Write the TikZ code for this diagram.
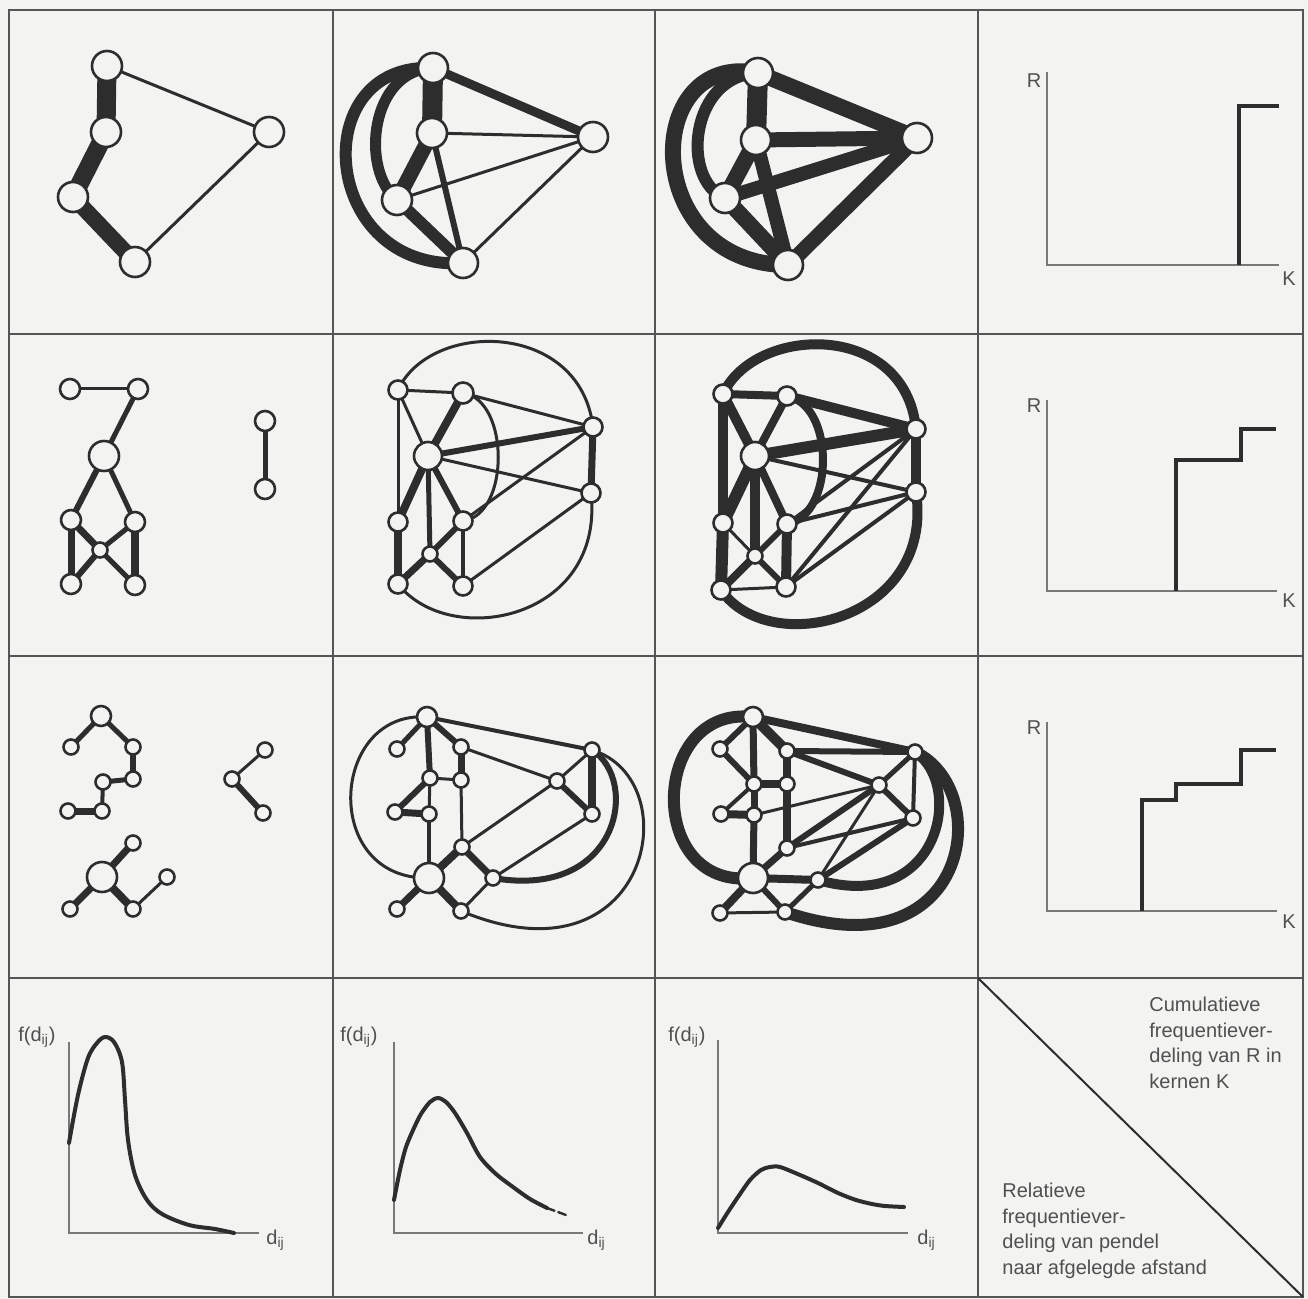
\documentclass[tikz,border=0pt]{standalone}
\usepackage{fontspec}
\setmainfont{Liberation Sans}
\usetikzlibrary{positioning}
\definecolor{paper}{RGB}{243,243,241}
\definecolor{ink}{RGB}{45,45,45}
\definecolor{rule}{RGB}{85,85,85}
\definecolor{axisgray}{RGB}{120,120,120}
\definecolor{txt}{RGB}{80,80,80}
\pgfdeclarelayer{paper}
\pgfdeclarelayer{links}
\pgfsetlayers{paper,links,main}

\begin{document}
\begin{tikzpicture}[x=0.5pt, y=-0.5pt,
    vtx/.style={circle, draw=ink, fill=paper, line width=1.3pt, inner sep=0pt, minimum size=#1*1pt},
    tie/.style={draw=ink, line width=#1*0.5pt},
    gridline/.style={draw=rule, line width=1pt},
    axisline/.style={draw=axisgray, line width=0.75pt},
    stair/.style={draw=ink, line width=2pt},
    density/.style={draw=ink, line width=2pt, line cap=round, line join=round},
    lbl/.style={text=txt, inner sep=0pt, font=\fontsize{10}{12.75}\selectfont}
]

% Paper
\begin{pgfonlayer}{paper}
\fill[paper] (0,0) rectangle (1308,1299);
\end{pgfonlayer}

% Grid of panels
\draw[gridline] (9,10) rectangle (1303,1297);
\draw[gridline] (333,10) -- (333,1297) (655,10) -- (655,1297) (978,10) -- (978,1297);
\draw[gridline] (9,334) -- (1303,334) (9,656) -- (1303,656) (9,978) -- (1303,978);

% Row 1, panel 1
\node[vtx=15] (n11a) at (107,66) {};
\node[vtx=15] (n11b) at (106,132) {};
\node[vtx=15] (n11c) at (73,197) {};
\node[vtx=15] (n11d) at (135,262) {};
\node[vtx=15] (n11e) at (269,132) {};
\begin{pgfonlayer}{links}
\draw[tie=19] (n11a.center) -- (n11b.center);
\draw[tie=18] (n11b.center) -- (n11c.center);
\draw[tie=16] (n11c.center) -- (n11d.center);
\draw[tie=3] (n11a.center) -- (n11e.center) -- (n11d.center);
\end{pgfonlayer}

% Row 1, panel 2
\node[vtx=15] (n12a) at (433,68) {};
\node[vtx=15] (n12b) at (432,133) {};
\node[vtx=15] (n12c) at (397,200) {};
\node[vtx=15] (n12d) at (463,263) {};
\node[vtx=15] (n12e) at (593,137) {};
\begin{pgfonlayer}{links}
\draw[tie=20] (n12a.center) -- (n12b.center);
\draw[tie=9] (n12a.center) -- (n12e.center);
\draw[tie=15] (n12b.center) -- (n12c.center);
\draw[tie=6] (n12b.center) -- (n12d.center);
\draw[tie=12] (n12c.center) -- (n12d.center);
\draw[tie=3] (n12b.center) -- (n12e.center);
\draw[tie=3] (n12c.center) -- (n12e.center);
\draw[tie=3] (n12d.center) -- (n12e.center);
\draw[tie=12] (n12a.center) .. controls (305,62) and (320,272) .. (n12d.center);
\draw[tie=11] (n12a.center) .. controls (370,70) and (360,170) .. (n12c.center);
\end{pgfonlayer}

% Row 1, panel 3
\node[vtx=15] (n13a) at (758,73) {};
\node[vtx=15] (n13b) at (756,140) {};
\node[vtx=15] (n13c) at (725,198) {};
\node[vtx=15] (n13d) at (788,265) {};
\node[vtx=15] (n13e) at (917,138) {};
\begin{pgfonlayer}{links}
\draw[tie=20] (n13a.center) -- (n13b.center);
\draw[tie=16] (n13a.center) -- (n13e.center);
\draw[tie=15] (n13b.center) -- (n13e.center);
\draw[tie=14] (n13c.center) -- (n13e.center);
\draw[tie=16] (n13b.center) -- (n13c.center);
\draw[tie=14] (n13b.center) -- (n13d.center);
\draw[tie=16] (n13c.center) -- (n13d.center);
\draw[tie=15] (n13d.center) -- (n13e.center);
\draw[tie=16] (n13a.center) .. controls (640,50) and (640,265) .. (n13d.center);
\draw[tie=12] (n13a.center) .. controls (690,75) and (680,180) .. (n13c.center);
\end{pgfonlayer}

% Row 2, panel 1
\node[vtx=10] (n21a) at (70,389) {};
\node[vtx=10] (n21b) at (138,389) {};
\node[vtx=15] (n21c) at (104,456) {};
\node[vtx=10] (n21d) at (71,520) {};
\node[vtx=10] (n21e) at (135,522) {};
\node[vtx=7.5] (n21f) at (100,550) {};
\node[vtx=10] (n21g) at (71,584) {};
\node[vtx=10] (n21h) at (135,585) {};
\node[vtx=10] (n21i) at (265,421) {};
\node[vtx=10] (n21j) at (265,489) {};
\begin{pgfonlayer}{links}
\draw[tie=3] (n21a.center) -- (n21b.center);
\draw[tie=5] (n21b.center) -- (n21c.center);
\draw[tie=6] (n21c.center) -- (n21d.center);
\draw[tie=5] (n21c.center) -- (n21e.center);
\draw[tie=7] (n21d.center) -- (n21f.center);
\draw[tie=5] (n21e.center) -- (n21f.center);
\draw[tie=7] (n21d.center) -- (n21g.center);
\draw[tie=8] (n21e.center) -- (n21h.center);
\draw[tie=6] (n21f.center) -- (n21g.center);
\draw[tie=5] (n21f.center) -- (n21h.center);
\draw[tie=5] (n21i.center) -- (n21j.center);
\end{pgfonlayer}

% Row 2, panel 2
\node[vtx=9.5] (n22a) at (398,390) {};
\node[vtx=10.5] (n22b) at (463,393) {};
\node[vtx=14] (n22c) at (428,456) {};
\node[vtx=9.5] (n22d) at (398,522) {};
\node[vtx=9.5] (n22e) at (463,521) {};
\node[vtx=7.5] (n22f) at (430,554) {};
\node[vtx=9.5] (n22g) at (398,584) {};
\node[vtx=9.5] (n22h) at (463,586) {};
\node[vtx=9.5] (n22i) at (593,427) {};
\node[vtx=9.5] (n22j) at (591,493) {};
\begin{pgfonlayer}{links}
\draw[tie=3] (n22a.center) -- (n22b.center);
\draw[tie=3] (n22a.center) -- (n22c.center);
\draw[tie=3] (n22a.center) -- (n22d.center);
\draw[tie=8] (n22b.center) -- (n22c.center);
\draw[tie=3] (n22b.center) -- (n22i.center);
\draw[tie=6] (n22c.center) -- (n22i.center);
\draw[tie=3] (n22c.center) -- (n22j.center);
\draw[tie=8] (n22c.center) -- (n22d.center);
\draw[tie=5] (n22c.center) -- (n22f.center);
\draw[tie=6] (n22c.center) -- (n22e.center);
\draw[tie=6] (n22e.center) -- (n22f.center);
\draw[tie=7] (n22f.center) -- (n22g.center);
\draw[tie=8] (n22d.center) -- (n22g.center);
\draw[tie=6] (n22f.center) -- (n22h.center);
\draw[tie=4] (n22e.center) -- (n22h.center);
\draw[tie=3] (n22e.center) -- (n22i.center);
\draw[tie=3] (n22h.center) -- (n22j.center);
\draw[tie=7] (n22i.center) -- (n22j.center);
\draw[tie=3] (n22a.center) .. controls (430,320) and (580,320) .. (n22i.center);
\draw[tie=3] (n22j.center) .. controls (605,620) and (450,650) .. (n22g.center);
\draw[tie=3] (n22b.center) .. controls (510,400) and (510,515) .. (n22e.center);
\end{pgfonlayer}

% Row 2, panel 3
\node[vtx=9.5] (n23a) at (723,394) {};
\node[vtx=9.5] (n23b) at (787,396) {};
\node[vtx=14] (n23c) at (755,456) {};
\node[vtx=9.5] (n23d) at (723,523) {};
\node[vtx=9.5] (n23e) at (787,524) {};
\node[vtx=7.5] (n23f) at (755,556) {};
\node[vtx=9.5] (n23g) at (721,590) {};
\node[vtx=9.5] (n23h) at (786,587) {};
\node[vtx=9.5] (n23i) at (916,429) {};
\node[vtx=9.5] (n23j) at (916,492) {};
\begin{pgfonlayer}{links}
\draw[tie=8] (n23a.center) -- (n23b.center);
\draw[tie=10] (n23a.center) -- (n23d.center);
\draw[tie=10] (n23a.center) -- (n23c.center);
\draw[tie=8] (n23b.center) -- (n23c.center);
\draw[tie=10] (n23b.center) -- (n23i.center);
\draw[tie=12] (n23c.center) -- (n23i.center);
\draw[tie=4] (n23c.center) -- (n23j.center);
\draw[tie=12] (n23c.center) -- (n23d.center);
\draw[tie=10] (n23c.center) -- (n23f.center);
\draw[tie=8] (n23c.center) -- (n23e.center);
\draw[tie=12] (n23d.center) -- (n23g.center);
\draw[tie=3] (n23d.center) -- (n23f.center);
\draw[tie=6] (n23e.center) -- (n23f.center);
\draw[tie=8] (n23f.center) -- (n23g.center);
\draw[tie=6] (n23f.center) -- (n23h.center);
\draw[tie=10] (n23e.center) -- (n23h.center);
\draw[tie=3] (n23g.center) -- (n23h.center);
\draw[tie=4] (n23e.center) -- (n23i.center);
\draw[tie=4] (n23e.center) -- (n23j.center);
\draw[tie=4] (n23h.center) -- (n23i.center);
\draw[tie=4] (n23h.center) -- (n23j.center);
\draw[tie=10] (n23i.center) -- (n23j.center);
\draw[tie=10] (n23a.center) .. controls (755,325) and (905,320) .. (n23i.center);
\draw[tie=10] (n23j.center) .. controls (935,620) and (770,660) .. (n23g.center);
\draw[tie=8] (n23b.center) .. controls (835,405) and (835,515) .. (n23e.center);
\end{pgfonlayer}

% Row 3, panel 1
\node[vtx=10] (n31a) at (101,716) {};
\node[vtx=7.5] (n31b) at (71,747) {};
\node[vtx=7.5] (n31c) at (133,747) {};
\node[vtx=7.5] (n31d) at (133,779) {};
\node[vtx=7.5] (n31e) at (103,782) {};
\node[vtx=7.5] (n31f) at (68,811) {};
\node[vtx=7.5] (n31g) at (102,811) {};
\node[vtx=7.5] (n31h) at (133,843) {};
\node[vtx=15] (n31i) at (102,877) {};
\node[vtx=7.5] (n31j) at (70,909) {};
\node[vtx=7.5] (n31k) at (133,909) {};
\node[vtx=7.5] (n31l) at (167,877) {};
\node[vtx=7.5] (n31m) at (265,750) {};
\node[vtx=7.5] (n31n) at (232,779) {};
\node[vtx=7.5] (n31o) at (263,813) {};
\begin{pgfonlayer}{links}
\draw[tie=5] (n31a.center) -- (n31b.center);
\draw[tie=5] (n31a.center) -- (n31c.center);
\draw[tie=6] (n31c.center) -- (n31d.center);
\draw[tie=5] (n31d.center) -- (n31e.center);
\draw[tie=4] (n31e.center) -- (n31g.center);
\draw[tie=7] (n31g.center) -- (n31f.center);
\draw[tie=7] (n31i.center) -- (n31h.center);
\draw[tie=7] (n31i.center) -- (n31j.center);
\draw[tie=8] (n31i.center) -- (n31k.center);
\draw[tie=3] (n31k.center) -- (n31l.center);
\draw[tie=3] (n31m.center) -- (n31n.center);
\draw[tie=6] (n31n.center) -- (n31o.center);
\end{pgfonlayer}

% Row 3, panel 2
\node[vtx=10] (n32a) at (427,717) {};
\node[vtx=7.5] (n32b) at (397,749) {};
\node[vtx=7.5] (n32c) at (461,747) {};
\node[vtx=7.5] (n32d) at (461,780) {};
\node[vtx=7.5] (n32e) at (430,778) {};
\node[vtx=7.5] (n32f) at (395,812) {};
\node[vtx=7.5] (n32g) at (429,814) {};
\node[vtx=7.5] (n32h) at (462,847) {};
\node[vtx=15] (n32i) at (429,878) {};
\node[vtx=7.5] (n32j) at (397,909) {};
\node[vtx=7.5] (n32k) at (461,911) {};
\node[vtx=7.5] (n32l) at (493,878) {};
\node[vtx=7.5] (n32m) at (592,750) {};
\node[vtx=7.5] (n32n) at (557,781) {};
\node[vtx=7.5] (n32o) at (592,814) {};
\begin{pgfonlayer}{links}
\draw[tie=5] (n32a.center) -- (n32b.center);
\draw[tie=6] (n32a.center) -- (n32c.center);
\draw[tie=6] (n32a.center) -- (n32e.center);
\draw[tie=6] (n32e.center) -- (n32f.center);
\draw[tie=7] (n32f.center) -- (n32g.center);
\draw[tie=3] (n32e.center) -- (n32g.center);
\draw[tie=4] (n32g.center) -- (n32i.center);
\draw[tie=7] (n32c.center) -- (n32d.center);
\draw[tie=3] (n32d.center) -- (n32e.center);
\draw[tie=4] (n32a.center) -- (n32m.center);
\draw[tie=3] (n32c.center) -- (n32n.center);
\draw[tie=3] (n32d.center) -- (n32h.center);
\draw[tie=3] (n32h.center) -- (n32n.center);
\draw[tie=3] (n32m.center) -- (n32n.center);
\draw[tie=6] (n32n.center) -- (n32o.center);
\draw[tie=8] (n32m.center) -- (n32o.center);
\draw[tie=3] (n32l.center) -- (n32o.center);
\draw[tie=8] (n32i.center) -- (n32h.center);
\draw[tie=7] (n32h.center) -- (n32l.center);
\draw[tie=7] (n32i.center) -- (n32j.center);
\draw[tie=8] (n32i.center) -- (n32k.center);
\draw[tie=3] (n32k.center) -- (n32l.center);
\draw[tie=3] (n32a.center) .. controls (330,710) and (320,880) .. (n32i.center);
\draw[tie=6] (n32m.center) .. controls (640,780) and (620,900) .. (n32l.center);
\draw[tie=3] (n32m.center) .. controls (690,780) and (650,990) .. (n32k.center);
\end{pgfonlayer}

% Row 3, panel 3
\node[vtx=10] (n33a) at (753,717) {};
\node[vtx=7.5] (n33b) at (720,749) {};
\node[vtx=7.5] (n33c) at (787,751) {};
\node[vtx=7.5] (n33d) at (787,784) {};
\node[vtx=7.5] (n33e) at (754,784) {};
\node[vtx=7.5] (n33f) at (721,814) {};
\node[vtx=7.5] (n33g) at (754,815) {};
\node[vtx=7.5] (n33h) at (787,848) {};
\node[vtx=15] (n33i) at (753,878) {};
\node[vtx=7.5] (n33j) at (720,913) {};
\node[vtx=7.5] (n33k) at (785,912) {};
\node[vtx=7.5] (n33l) at (818,880) {};
\node[vtx=7.5] (n33m) at (915,752) {};
\node[vtx=7.5] (n33n) at (879,785) {};
\node[vtx=7.5] (n33o) at (913,818) {};
\begin{pgfonlayer}{links}
\draw[tie=6] (n33a.center) -- (n33b.center);
\draw[tie=10] (n33a.center) -- (n33c.center);
\draw[tie=7] (n33a.center) -- (n33e.center);
\draw[tie=7] (n33e.center) -- (n33g.center);
\draw[tie=7] (n33g.center) -- (n33i.center);
\draw[tie=6] (n33b.center) -- (n33e.center);
\draw[tie=8] (n33c.center) -- (n33d.center);
\draw[tie=8] (n33d.center) -- (n33e.center);
\draw[tie=4] (n33e.center) -- (n33f.center);
\draw[tie=8] (n33f.center) -- (n33g.center);
\draw[tie=3] (n33g.center) -- (n33n.center);
\draw[tie=8] (n33a.center) -- (n33m.center);
\draw[tie=6] (n33c.center) -- (n33m.center);
\draw[tie=6] (n33c.center) -- (n33n.center);
\draw[tie=8] (n33d.center) -- (n33h.center);
\draw[tie=6] (n33h.center) -- (n33n.center);
\draw[tie=4] (n33h.center) -- (n33o.center);
\draw[tie=3] (n33l.center) -- (n33n.center);
\draw[tie=6] (n33l.center) -- (n33o.center);
\draw[tie=5] (n33m.center) -- (n33n.center);
\draw[tie=4] (n33m.center) -- (n33o.center);
\draw[tie=6] (n33n.center) -- (n33o.center);
\draw[tie=7] (n33i.center) -- (n33h.center);
\draw[tie=8] (n33i.center) -- (n33l.center);
\draw[tie=8] (n33i.center) -- (n33j.center);
\draw[tie=6] (n33i.center) -- (n33k.center);
\draw[tie=5] (n33k.center) -- (n33l.center);
\draw[tie=3] (n33j.center) -- (n33k.center);
\draw[tie=12] (n33a.center) .. controls (650,705) and (645,890) .. (n33i.center);
\draw[tie=10] (n33m.center) .. controls (965,785) and (940,915) .. (n33l.center);
\draw[tie=12] (n33m.center) .. controls (995,790) and (970,975) .. (n33k.center);
\end{pgfonlayer}

% Cumulative distributions R over K
\draw[axisline] (1047,72) |- (1279,265);
\node[lbl] (r1) at (1034,81) {R};
\node[lbl] (k1) at (1289,279) {K};
\draw[stair] (1239,265) |- (1279,106);

\draw[axisline] (1047,400) |- (1277,591);
\node[lbl] (r2) at (1034,406) {R};
\node[lbl] (k2) at (1289,601) {K};
\draw[stair] (1176,591) |- (1241,460) |- (1276,429);

\draw[axisline] (1047,722) |- (1277,911);
\node[lbl] (r3) at (1034,728) {R};
\node[lbl] (k3) at (1289,922) {K};
\draw[stair] (1142,911) |- (1176,800) |- (1241,784) |- (1276,750);

% Commuting distance distributions
\draw[axisline] (69,1042) |- (259,1233);
\node[lbl, anchor=west] (f1) at (18,1037) {f(d\textsubscript{ij})};
\node[lbl, anchor=west] (d1) at (266,1240) {d\textsubscript{ij}};
\draw[density] plot[smooth, tension=0.55] coordinates {(69,1143) (78,1095) (88,1058) (97,1043) (105,1037) (114,1042) (122,1062) (125,1100) (128,1140) (135,1175) (147,1200) (162,1214) (189,1225) (215,1229) (234,1233)};

\draw[axisline] (394,1042) |- (583,1233);
\node[lbl, anchor=west] (f2) at (340,1037) {f(d\textsubscript{ij})};
\node[lbl, anchor=west] (d2) at (587,1240) {d\textsubscript{ij}};
\draw[density] plot[smooth] coordinates {(394,1200) (400,1170) (406,1147) (414,1128) (421,1114) (430,1102) (438,1098) (446,1102) (455,1113) (467,1133) (480,1157) (496,1174) (513,1187) (530,1199) (547,1208)};
\draw[density, line width=1.2pt, dash pattern=on 4pt off 2pt] (547,1208) -- (566,1215);

\draw[axisline] (718,1040) |- (908,1233);
\node[lbl, anchor=west] (f3) at (668,1037) {f(d\textsubscript{ij})};
\node[lbl, anchor=west] (d3) at (917,1240) {d\textsubscript{ij}};
\draw[density] plot[smooth] coordinates {(718,1228) (728,1212) (738,1197) (750,1180) (761,1170) (770,1167) (780,1167) (800,1175) (818,1183) (838,1193) (856,1200) (872,1204) (885,1206) (904,1207)};

% Key panel
\draw[ink, line width=1pt] (978,978) -- (1303,1297);
\node[lbl, anchor=north west, align=left] (keyR) at (1149,997) {Cumulatieve\\frequentiever-\\deling van R in\\kernen K};
\node[lbl, anchor=north west, align=left] (keyD) at (1002,1183) {Relatieve\\frequentiever-\\deling van pendel\\naar afgelegde afstand};

\end{tikzpicture}
\end{document}
